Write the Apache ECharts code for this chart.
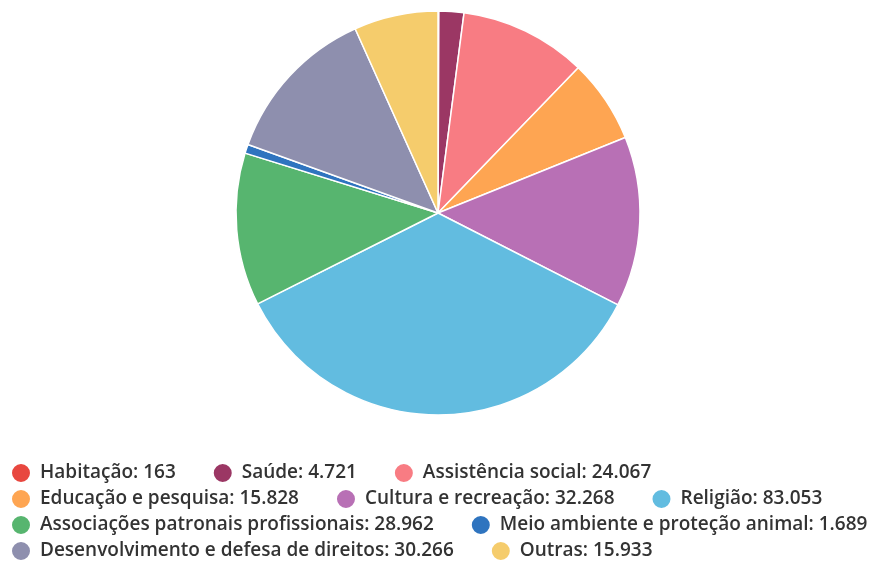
<!DOCTYPE html>
<html><head><meta charset="utf-8">
<script src="https://cdn.jsdelivr.net/npm/echarts@6/dist/echarts.min.js"></script>
<style>html,body{margin:0;padding:0;background:#fff}#c{width:872px;height:562px}</style>
</head><body><div id="c"></div>
<script>
const categories = ["Habitação","Saúde","Assistência social","Educação e pesquisa","Cultura e recreação","Religião","Associações patronais profissionais","Meio ambiente e proteção animal","Desenvolvimento e defesa de direitos","Outras"];
const values = [163,4721,24067,15828,32268,83053,28962,1689,30266,15933];
const colors = ["#e8473f","#9b3764","#f87c83","#fea552","#b870b5","#62bce0","#57b56f","#2f74bf","#8e8fae","#f5cc6c"];
const legendRows = [
  ["Habitação","Saúde","Assistência social"],
  ["Educação e pesquisa","Cultura e recreação","Religião"],
  ["Associações patronais profissionais","Meio ambiente e proteção animal"],
  ["Desenvolvimento e defesa de direitos","Outras"]
];
function fmt(v){return String(v).replace(/\B(?=(\d{3})+(?!\d))/g,'.');}
const valueOf = {};
categories.forEach((c,i)=>valueOf[c]=values[i]);
const rowTops = [462, 488, 514, 540];
const chart = echarts.init(document.getElementById('c'));
chart.setOption({
  animation:false,
  color: colors,
  legend: legendRows.map((row,r)=>({
    data: row,
    orient:'horizontal',
    left: 10, top: rowTops[r],
    padding: 0,
    icon:'circle', itemWidth:20, itemHeight:20, itemGap:36,
    textStyle:{fontFamily:'Open Sans', fontWeight:600, fontSize:19, color:'#333', padding:[0,0,0,4]},
    formatter: n => n + ': ' + fmt(valueOf[n]),
    selectedMode:false
  })),
  series:[{
    type:'pie',
    center:[438,213],
    radius:[0,202],
    startAngle:90,
    clockwise:true,
    label:{show:false},
    labelLine:{show:false},
    itemStyle:{borderColor:'#fff', borderWidth:1.5},
    emphasis:{disabled:true},
    data: categories.map((c,i)=>({name:c, value:values[i]}))
  }]
});
</script></body></html>
